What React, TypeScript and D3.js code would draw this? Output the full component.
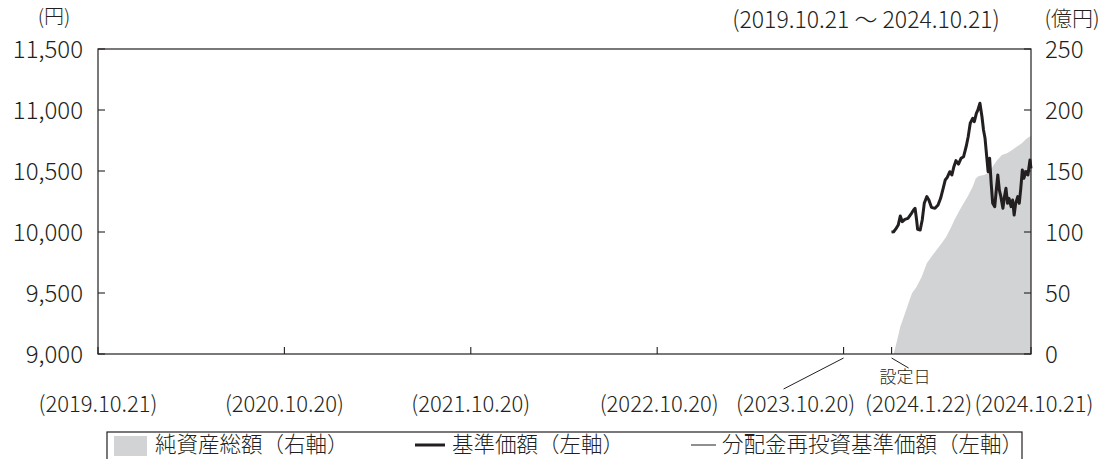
import React from 'react';
import * as d3 from 'd3';

// 基準価額 / 分配金再投資基準価額 (円)
const navDates = ['2024.01.22','2024.01.26','2024.01.31','2024.02.04','2024.02.08','2024.02.12','2024.02.17','2024.02.23','2024.03.01','2024.03.05','2024.03.08','2024.03.11','2024.03.13','2024.03.18','2024.03.22','2024.03.26','2024.03.31','2024.04.04','2024.04.09','2024.04.16','2024.04.22','2024.04.27','2024.05.02','2024.05.06','2024.05.10','2024.05.15','2024.05.19','2024.05.23','2024.05.27','2024.06.01','2024.06.06','2024.06.11','2024.06.16','2024.06.20','2024.06.24','2024.06.29','2024.07.02','2024.07.06','2024.07.09','2024.07.13','2024.07.17','2024.07.20','2024.07.23','2024.07.26','2024.07.29','2024.08.01','2024.08.04','2024.08.07','2024.08.11','2024.08.14','2024.08.17','2024.08.20','2024.08.23','2024.08.27','2024.08.30','2024.09.02','2024.09.05','2024.09.08','2024.09.12','2024.09.15','2024.09.18','2024.09.21','2024.09.25','2024.09.28','2024.10.01','2024.10.04','2024.10.07','2024.10.11','2024.10.15','2024.10.19','2024.10.21'];
const navValues = [10000,10002,10030,10057,10131,10085,10104,10112,10153,10180,10194,10098,10022,10016,10098,10235,10290,10262,10202,10194,10221,10276,10358,10426,10448,10494,10467,10535,10585,10557,10604,10617,10699,10781,10891,10932,10904,10973,11000,11055,10945,10836,10768,10631,10494,10604,10399,10235,10208,10344,10467,10344,10290,10194,10290,10358,10235,10276,10208,10262,10139,10235,10290,10235,10358,10508,10440,10494,10467,10590,10522];
const reinvValues = navValues.slice(); // no distributions, same as NAV

// 純資産総額 (億円)
const assetDates = ['2024.01.26','2024.02.02','2024.02.08','2024.02.15','2024.02.24','2024.03.02','2024.03.11','2024.03.21','2024.03.31','2024.04.09','2024.04.19','2024.04.29','2024.05.08','2024.05.18','2024.05.24','2024.05.31','2024.06.09','2024.06.19','2024.06.29','2024.07.05','2024.07.11','2024.07.21','2024.07.28','2024.08.03','2024.08.09','2024.08.16','2024.08.25','2024.09.04','2024.09.14','2024.09.23','2024.10.03','2024.10.13','2024.10.21'];
const assetValues = [0,11.5,22.4,30.6,41.5,49.7,55.2,63.4,74.3,79.8,85.2,90.7,96.2,104.4,109.8,115.3,122.1,129,137.2,144,145.9,146.7,148.1,150.8,154.9,159,163.1,164.5,167.2,169.9,172.7,176.8,178.7];

const leftTicks = [9000, 9500, 10000, 10500, 11000, 11500];
const rightTicks = [0, 50, 100, 150, 200, 250];
const xTickDates = ['2019.10.21','2020.10.20','2021.10.20','2022.10.20','2023.10.20','2024.01.22','2024.10.21'];
const xTickLabels = ['(2019.10.21)','(2020.10.20)','(2021.10.20)','(2022.10.20)','(2023.10.20)','(2024.1.22)','(2024.10.21)'];

const W = 1105;
const H = 459;
const m = { left: 98, right: 1031, top: 49, bottom: 354 };
const FONT = '"Noto Sans CJK JP", "Noto Sans", sans-serif';
const INK = '#231f20';
const GRAY = '#d1d3d4';
// horizontal shift of crowded date labels
const labelShift = [0, 0, 0, 2, -48, 27, 3];

const parse = d3.timeParse('%Y.%m.%d');

export default function App() {
  const x = d3.scaleTime()
    .domain([parse('2019.10.21')!, parse('2024.10.21')!])
    .range([m.left, m.right]);
  const yL = d3.scaleLinear().domain([9000, 11500]).range([m.bottom, m.top]);
  const yR = d3.scaleLinear().domain([0, 250]).range([m.bottom, m.top]);

  const nav = navDates.map((d, i) => ({ t: parse(d)!, v: navValues[i] }));
  const reinv = navDates.map((d, i) => ({ t: parse(d)!, v: reinvValues[i] }));
  const assets = assetDates.map((d, i) => ({ t: parse(d)!, v: assetValues[i] }));

  const area = d3.area<{ t: Date; v: number }>()
    .x(d => x(d.t))
    .y0(yR(0))
    .y1(d => yR(d.v));
  const line = d3.line<{ t: Date; v: number }>()
    .x(d => x(d.t))
    .y(d => yL(d.v));

  const fmt = d3.format(',');
  const tickDates = xTickDates.map(d => parse(d)!);
  const x2023 = x(tickDates[4]);
  const xLaunch = x(tickDates[5]);

  return (
    <svg width={W} height={H} style={{ position: 'absolute', left: 0, top: 0 }}
      fontFamily={FONT} fill={INK}>
      <rect width={W} height={H} fill="#fff" />

      {/* net assets area */}
      <path d={area(assets) || ''} fill={GRAY} />

      {/* lines */}
      <path d={line(nav) || ''} fill="none" stroke={INK} strokeWidth={3} strokeLinejoin="round" />
      <path d={line(reinv) || ''} fill="none" stroke={INK} strokeWidth={1} />

      {/* frame */}
      <rect x={m.left} y={m.top} width={m.right - m.left} height={m.bottom - m.top}
        fill="none" stroke={INK} strokeWidth={1.2} />

      {/* left axis */}
      {leftTicks.map(t => (
        <g key={'l' + t}>
          <line x1={m.left} x2={m.left + 7} y1={yL(t)} y2={yL(t)} stroke={INK} strokeWidth={1.1} />
          <text x={83} y={yL(t)} dy="0.36em" textAnchor="end" fontSize={24} fontWeight={300}>{fmt(t)}</text>
        </g>
      ))}
      {/* right axis */}
      {rightTicks.map(t => (
        <g key={'r' + t}>
          <line x1={m.right - 7} x2={m.right} y1={yR(t)} y2={yR(t)} stroke={INK} strokeWidth={1.1} />
          <text x={1045} y={yR(t)} dy="0.36em" textAnchor="start" fontSize={24} fontWeight={300}>{t}</text>
        </g>
      ))}

      {/* bottom axis */}
      {tickDates.map((d, i) => (
        <g key={'x' + i}>
          <line x1={x(d)} x2={x(d)} y1={m.bottom} y2={m.bottom - 7} stroke={INK} strokeWidth={1.1} />
          <text x={x(d) + labelShift[i]} y={412} textAnchor="middle" fontSize={22} fontWeight={300}>
            {xTickLabels[i]}
          </text>
        </g>
      ))}
      <line x1={x2023} y1={m.bottom + 4} x2={x2023 - 60} y2={389} stroke={INK} strokeWidth={1} />
      <line x1={xLaunch} y1={m.bottom + 4} x2={xLaunch + 17} y2={368} stroke={INK} strokeWidth={1} />
      <text x={905} y={383} textAnchor="middle" fontSize={17} fontWeight={300}>設定日</text>

      {/* units and period */}
      <text x={54} y={24} textAnchor="middle" fontSize={20} fontWeight={300}>(円)</text>
      <text x={1072} y={26} textAnchor="middle" fontSize={21} fontWeight={300}>(億円)</text>
      <text x={866} y={28} textAnchor="middle" fontSize={23} fontWeight={300}>(2019.10.21 ～ 2024.10.21)</text>

      {/* legend */}
      <rect x={107} y={432} width={915} height={40} fill="none" stroke={INK} strokeWidth={1.2} />
      <rect x={114} y={436} width={33} height={20} fill={GRAY} />
      <text x={155} y={452} fontSize={21.5} fontWeight={300}>純資産総額（右軸）</text>
      <line x1={415} x2={445} y1={445} y2={445} stroke={INK} strokeWidth={3} />
      <text x={452} y={452} fontSize={21.5} fontWeight={300}>基準価額（左軸）</text>
      <line x1={691} x2={716} y1={445} y2={445} stroke={INK} strokeWidth={1} />
      <text x={722} y={452} fontSize={21.5} fontWeight={300}>分配金再投資基準価額（左軸）</text>
    </svg>
  );
}
